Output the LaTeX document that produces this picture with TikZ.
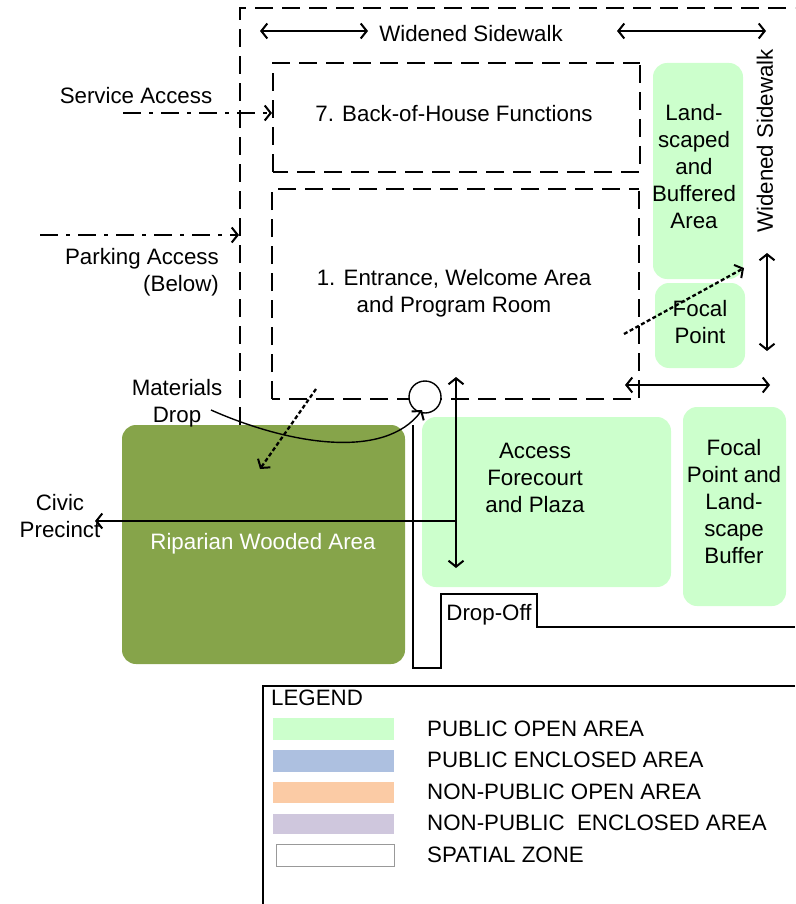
\documentclass[tikz,border=0pt]{standalone}
\usepackage{fontspec}
\setmainfont{Liberation Sans}
\usetikzlibrary{arrows.meta}
\definecolor{pubopen}{HTML}{CCFFCC}
\definecolor{pubenc}{HTML}{ADC0E0}
\definecolor{npopen}{HTML}{FBCBA5}
\definecolor{npenc}{HTML}{CFC7DD}
\definecolor{olive}{HTML}{86A44A}
\tikzset{
  x=1pt,y=-1pt,
  >={Straight Barb[length=6pt,width=15pt,line width=2pt]},
  lbl/.style={font=\fontsize{22.3}{27}\selectfont,align=center,inner sep=0pt,text=black},
  lblr/.style={lbl,align=right},
  zone/.style={draw=black,line width=2.2pt,dash pattern=on 18pt off 9pt},
  dbl/.style={<->,draw=black,line width=2.2pt},
  dashdot/.style={->,draw=black,line width=2.2pt,dash pattern=on 18pt off 8pt on 4pt off 8pt},
  dotarrow/.style={->,draw=black,line width=2.3pt,dash pattern=on 4pt off 2.5pt},
  road/.style={draw=black,line width=2.2pt},
  greenarea/.style={fill=pubopen,draw=none,rounded corners=14pt},
  swatch/.style={draw=none}
}
\begin{document}
\begin{tikzpicture}
\useasboundingbox (0,0) rectangle (795,904);
% filled areas
\fill[greenarea] (653,63) rectangle (743,279);
\fill[greenarea] (655,283) rectangle (745,368);
\fill[greenarea] (422,417) rectangle (671,587);
\fill[greenarea] (683,407) rectangle (786,606);
\fill[fill=olive,rounded corners=14pt] (122,425) rectangle (405,664);
% spatial zones
\draw[zone] (240,425) -- (240,8) -- (795,8);
\draw[zone] (273,172) -- (273,63) -- (640,63);
\draw[zone] (640,65) -- (640,172) -- (273,172);
\draw[zone] (272,399) -- (272,189) -- (639,189);
\draw[zone] (639,191) -- (639,399) -- (272,399);
% drop-off road
\draw[road] (413,425) -- (413,668) -- (441,668) -- (441,594) -- (537,594) -- (537,627) -- (795,627);
% named anchors
\node[draw=black,fill=white,circle,line width=1.4pt,minimum size=32pt,inner sep=0pt] (dropc) at (425,397) {};
\coordinate (dropfrom) at (211,410);
\coordinate (dropto) at (422,410);
\coordinate (w1a) at (260,31); \coordinate (w1b) at (368,31);
\coordinate (w2a) at (617,31); \coordinate (w2b) at (766,31);
\coordinate (w3a) at (767,253); \coordinate (w3b) at (767,351);
\coordinate (w4a) at (625,385); \coordinate (w4b) at (770,385);
\coordinate (fa) at (456,377); \coordinate (fb) at (456,568);
\coordinate (fm) at (456,521); \coordinate (civic) at (95,521);
\coordinate (sa) at (123,113); \coordinate (sb) at (272,113);
\coordinate (pa) at (40,235); \coordinate (pb) at (239,235);
\coordinate (d1a) at (316,389); \coordinate (d1b) at (260,469);
\coordinate (d2a) at (624,334); \coordinate (d2b) at (744,268);
% texts
\node[lbl] (t7) at (454,114) {7. Back-of-House Functions};
\node[lbl] (t1) at (454,293) {1. Entrance, Welcome Area\\and Program Room};
\node[lbl] (twt) at (471,34) {Widened Sidewalk};
\node[lbl,rotate=90] (twr) at (765,141) {Widened Sidewalk};
\node[lbl] (tland) at (694,167) {Land-\\scaped\\and\\Buffered\\Area};
\node[lbl] (tfp) at (700,322) {Focal\\Point};
\node[lbl] (tacc) at (535,478) {Access\\Forecourt\\and Plaza};
\node[lbl] (tfp2) at (734,502) {Focal\\Point and\\Land-\\scape\\Buffer};
\node[lbl,text=white] (trip) at (263,544) {Riparian Wooded Area};
\node[lbl] (tdrop) at (489,615) {Drop-Off};
\node[lbl] (tsvc) at (136,96) {Service Access};
\node[lblr,anchor=north east] (tpark) at (219,248) {Parking Access\\(Below)};
\node[lbl] (tmat) at (177,403) {Materials\\Drop};
\node[lbl] (tciv) at (60,516) {Civic\\Precinct};
% connectors
\draw[dbl] (w1a) -- (w1b);
\draw[dbl] (w2a) -- (w2b);
\draw[dbl] (w3a) -- (w3b);
\draw[dbl] (w4a) -- (w4b);
\draw[dbl,line width=2.6pt] (fa) -- (fb);
\draw[->,draw=black,line width=2.2pt] (fm) -- (civic);
\draw[dashdot] (sa) -- (sb);
\draw[dashdot] (pa) -- (pb);
\draw[dotarrow] (d1a) -- (d1b);
\draw[dotarrow] (d2a) -- (d2b);
\draw[->,draw=black,line width=1.4pt] (dropfrom) .. controls (290,445) and (385,460) .. (dropto);
% legend
\draw[draw=black,line width=1.4pt] (263,904) -- (263,686) -- (795,686);
\node[lbl,anchor=west] (tleg) at (271,698) {LEGEND};
\fill[swatch,fill=pubopen] (273,718) rectangle (394,740);
\fill[swatch,fill=pubenc] (273,750) rectangle (394,772);
\fill[swatch,fill=npopen] (273,782) rectangle (394,803);
\fill[swatch,fill=npenc] (273,814) rectangle (394,834);
\draw[draw=black!40,line width=1pt] (276,844) rectangle (394,866);
\node[lbl,anchor=west] (l1) at (427,729) {PUBLIC OPEN AREA};
\node[lbl,anchor=west] (l2) at (427,760) {PUBLIC ENCLOSED AREA};
\node[lbl,anchor=west] (l3) at (427,792) {NON-PUBLIC OPEN AREA};
\node[lbl,anchor=west] (l4) at (427,823) {NON-PUBLIC\ \ ENCLOSED AREA};
\node[lbl,anchor=west] (l5) at (427,855) {SPATIAL ZONE};
\end{tikzpicture}
\end{document}
